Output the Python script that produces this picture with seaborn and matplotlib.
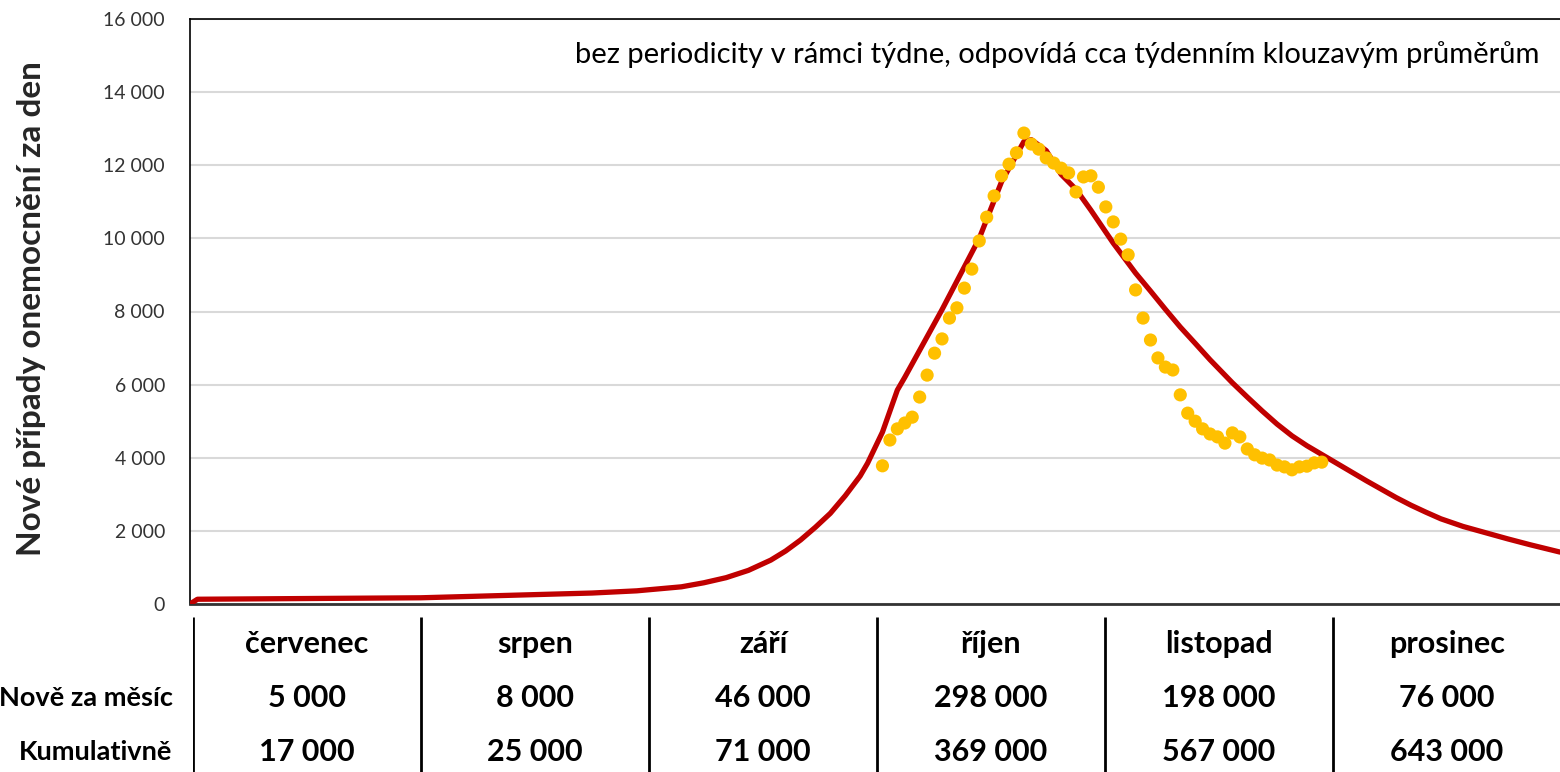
import matplotlib.pyplot as plt
import matplotlib.ticker as mticker
import pandas as pd
import seaborn as sns

# model curve: day since 1 July -> new cases per day
model_days = [0, 1, 31, 54, 60, 66, 69, 72, 75, 78, 80, 82, 84, 86, 88, 90,
              91, 93, 95, 96, 101, 106, 109, 112, 113, 115, 117, 119, 121,
              124, 127, 129, 131, 133, 135, 137, 140, 142, 144, 146, 148, 150,
              153, 156, 158, 160, 162, 164, 166, 168, 171, 174, 177, 180, 184]
model_cases = [0, 130, 170, 300, 360, 470, 580, 720, 920, 1200, 1450, 1750,
               2100, 2480, 2960, 3500, 3850, 4700, 5850, 6200, 8050, 10000,
               11550, 12650, 12700, 12400, 11750, 11340, 10770, 9870, 9050,
               8560, 8060, 7575, 7130, 6680, 6050, 5660, 5280, 4920, 4600,
               4330, 3970, 3610, 3370, 3140, 2910, 2700, 2510, 2330, 2120,
               1950, 1780, 1620, 1420]

# observed values without the weekly periodicity
observed_days = list(range(93, 153))
observed_cases = [3780, 4485, 4790, 4950, 5110, 5660, 6260, 6860, 7250, 7820,
                  8100, 8640, 9160, 9930, 10580, 11160, 11710, 12030, 12340,
                  12880, 12580, 12440, 12200, 12060, 11920, 11790, 11270,
                  11680, 11710, 11400, 10860, 10450, 9980, 9550, 8590, 7820,
                  7220, 6730, 6480, 6400, 5720, 5220, 5000, 4790, 4650, 4570,
                  4400, 4680, 4570, 4240, 4080, 3990, 3940, 3800, 3750, 3670,
                  3750, 3770, 3860, 3880]

months = ["červenec", "srpen", "září", "říjen", "listopad", "prosinec"]
monthly_new = [5000, 8000, 46000, 298000, 198000, 76000]
cumulative = [17000, 25000, 71000, 369000, 567000, 643000]


def fmt(v):
    return f"{v:,.0f}".replace(",", " ")


sns.set_theme(style="white")
plt.rcParams["font.family"] = ["Lato", "DejaVu Sans"]

fig = plt.figure(figsize=(15.6, 7.72), dpi=100)
ax = fig.add_axes([190 / 1560, 1 - 604 / 772, 1370 / 1560, 585 / 772])

model = pd.DataFrame({"day": model_days, "cases": model_cases})
observed = pd.DataFrame({"day": observed_days, "cases": observed_cases})

sns.lineplot(data=model, x="day", y="cases", ax=ax, color="#C00000",
             linewidth=3.8, zorder=3)
sns.scatterplot(data=observed, x="day", y="cases", ax=ax, color="#FFC000",
                s=90, edgecolor="none", zorder=4)

ax.set_xlim(0, 184)
ax.set_ylim(0, 16000)
ax.set_yticks(range(0, 16001, 2000))
ax.yaxis.set_major_formatter(mticker.FuncFormatter(lambda v, p: fmt(v)))
ax.set_xticks([])
ax.set_xlabel("")
ax.set_ylabel("Nové případy onemocnění za den", fontsize=24,
              fontweight="bold")
ax.yaxis.set_label_coords(-0.105, 0.505)
ax.tick_params(axis="y", labelsize=14, length=0, pad=18, labelcolor="#333333")
ax.grid(axis="y", color="#d9d9d9", linewidth=1.5)
ax.set_axisbelow(True)

for side in ["left", "top"]:
    ax.spines[side].set_color("black")
    ax.spines[side].set_linewidth(1.2)
ax.spines["bottom"].set_color("#333333")
ax.spines["bottom"].set_linewidth(2)
ax.spines["right"].set_visible(False)

ax.text(0.985, 0.94, "bez periodicity v rámci týdne, odpovídá cca týdenním "
        "klouzavým průměrům", transform=ax.transAxes, ha="right", va="center",
        fontsize=21, color="black")

# monthly summary table under the chart
tab = fig.add_axes([193 / 1560, 0, 1368 / 1560, 157 / 772])
tab.set_xlim(0, 6)
tab.set_ylim(0, 157)
tab.axis("off")
tab.vlines(range(6), 0, 155, color="black", linewidth=2)

rows = [(128, months), (74, [fmt(v) for v in monthly_new]),
        (20, [fmt(v) for v in cumulative])]
for y, vals in rows:
    for i, val in enumerate(vals):
        tab.text(i + 0.5, y, val, ha="center", va="center", fontsize=22,
                 fontweight="bold", color="black")
tab.text(-0.09, 74, "Nově za měsíc", ha="right", va="center", fontsize=19.5,
         fontweight="bold", color="black", clip_on=False)
tab.text(-0.09, 20, "Kumulativně", ha="right", va="center", fontsize=19.5,
         fontweight="bold", color="black", clip_on=False)

fig.savefig("out.png", dpi=100)
